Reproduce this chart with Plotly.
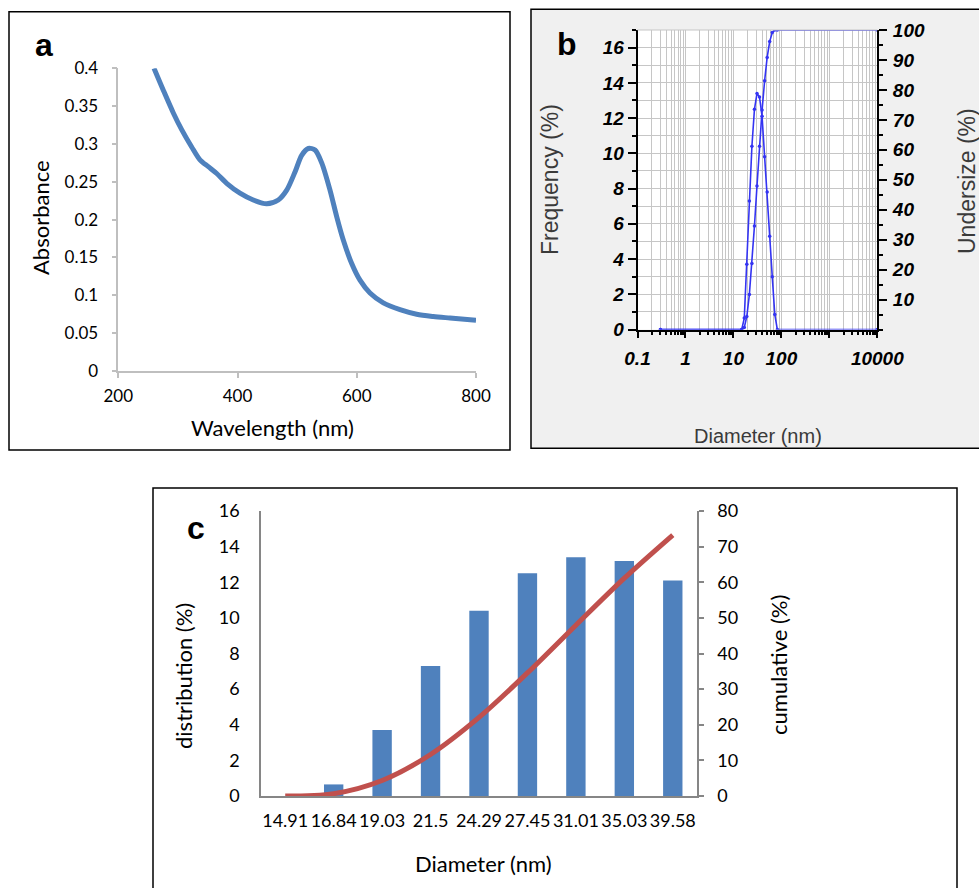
import plotly.graph_objects as go

# ---------------- data ----------------
# (a) UV-vis absorption spectrum
wavelength_nm = [259.9, 275.5, 292.3, 306.3, 323.1, 337.0, 351.0, 365.1, 381.8, 404.1,
                 426.4, 448.9, 468.4, 482.5, 496.4, 507.6, 518.7, 530.0, 541.2, 555.1,
                 566.3, 577.4, 591.5, 605.4, 622.2, 644.5, 672.5, 700.5, 728.4, 756.4, 800.0]
absorbance = [0.400, 0.371, 0.341, 0.319, 0.296, 0.279, 0.270, 0.261, 0.248, 0.235,
              0.226, 0.221, 0.226, 0.239, 0.263, 0.285, 0.294, 0.292, 0.275, 0.239,
              0.204, 0.173, 0.142, 0.120, 0.103, 0.090, 0.081, 0.075, 0.072, 0.070, 0.067]

# (b) particle size analyser output
dls_diameter_nm = [0.3, 14.91, 16.84, 19.03, 21.5, 24.29, 27.45, 31.01, 35.03, 39.58,
                   44.72, 50.53, 57.09, 64.5, 72.88, 82.34, 10000]
dls_frequency = [0, 0, 0.65, 3.7, 7.3, 10.4, 12.5, 13.4, 13.2, 12.1,
                 9.8, 7.8, 5.3, 3.0, 0.85, 0, 0]
dls_undersize = [0, 0, 0.65, 4.35, 11.65, 22.05, 34.55, 47.95, 61.15, 73.25,
                 83.05, 90.85, 96.15, 99.15, 100, 100, 100]
dls_tick_vals = [0.1, 1, 10, 100, 1000, 10000]
dls_tick_text = ["0.1", "1", "10", "100", "", "10000"]

# (c) size distribution histogram
size_bins = ["14.91", "16.84", "19.03", "21.5", "24.29", "27.45", "31.01", "35.03", "39.58"]
distribution_pct = [0, 0.65, 3.7, 7.3, 10.4, 12.5, 13.4, 13.2, 12.1]
cumulative_pct = [0, 0.65, 4.35, 11.65, 22.05, 34.55, 47.95, 61.15, 73.25]

# ---------------- layout helpers ----------------
W, H = 979, 888


def px(x):
    return x / W


def py(y):
    return 1 - y / H


BLUE = "#4F81BD"
RED = "#C0504D"
DLS_BLUE = "#3434F2"
GRID = "#C6C6C6"

excel_tick = dict(family="Lato", size=17, color="black")
excel_title = dict(family="Lato", size=22, color="black")
dls_tick = dict(family="Liberation Sans", size=19, color="black", weight="bold", style="italic")
dls_title = dict(family="Liberation Sans", size=20, color="#3a3a3a")
dls_title_v = dict(family="Liberation Sans", size=23, color="#3a3a3a")

fig = go.Figure()

# (a) spectrum
fig.add_trace(go.Scatter(
    x=wavelength_nm, y=absorbance, mode="lines",
    line=dict(color=BLUE, width=5, shape="spline", smoothing=0.8),
    xaxis="x", yaxis="y", showlegend=False))

# (b) frequency and undersize curves
fig.add_trace(go.Scatter(
    x=dls_diameter_nm, y=dls_frequency, mode="lines+markers",
    line=dict(color=DLS_BLUE, width=1.6), marker=dict(size=3.5, color=DLS_BLUE),
    xaxis="x2", yaxis="y2", showlegend=False))
fig.add_trace(go.Scatter(
    x=dls_diameter_nm, y=dls_undersize, mode="lines+markers",
    line=dict(color=DLS_BLUE, width=1.6), marker=dict(size=3.5, color=DLS_BLUE),
    xaxis="x2", yaxis="y3", showlegend=False))

# (c) histogram with cumulative curve
fig.add_trace(go.Bar(
    x=size_bins, y=distribution_pct, marker=dict(color=BLUE, line=dict(width=0)),
    xaxis="x3", yaxis="y4", showlegend=False))
fig.add_trace(go.Scatter(
    x=size_bins, y=cumulative_pct, mode="lines",
    line=dict(color=RED, width=5, shape="spline", smoothing=0.9),
    xaxis="x3", yaxis="y5", showlegend=False))

fig.update_layout(
    width=W, height=H, margin=dict(l=0, r=0, t=0, b=0, pad=0, autoexpand=False),
    paper_bgcolor="white", plot_bgcolor="white", bargap=0.6, showlegend=False,
    # panel a
    xaxis=dict(domain=[px(118.3), px(476)], anchor="y", range=[200, 800],
               tickvals=[200, 400, 600, 800], ticks="outside", ticklen=5,
               tickcolor="#BFBFBF", tickwidth=1.5, showline=True, linecolor="#BFBFBF",
               linewidth=1.5, showgrid=False, zeroline=False, tickfont=excel_tick,
               ticklabelstandoff=4, automargin=False),
    yaxis=dict(domain=[py(371), py(68.3)], anchor="x", range=[0, 0.4], dtick=0.05,
               tick0=0, ticks="outside", ticklen=5, tickcolor="#BFBFBF", tickwidth=1.5,
               showline=True, linecolor="#BFBFBF", linewidth=1.5, showgrid=False,
               zeroline=False, tickfont=excel_tick, ticklabelstandoff=10, automargin=False),
    # panel b
    xaxis2=dict(domain=[px(637.5), px(877.3)], anchor="y2", type="log", range=[-1, 4],
                tickvals=dls_tick_vals, ticktext=dls_tick_text, ticks="outside",
                ticklen=7, tickcolor="black", tickwidth=1.5, showline=True,
                linecolor="black", linewidth=1.5, showgrid=True, gridcolor=GRID,
                gridwidth=1, zeroline=False, tickfont=dls_tick, ticklabelstandoff=4,
                automargin=False,
                minor=dict(dtick="D1", showgrid=True, gridcolor=GRID, gridwidth=1,
                           ticks="outside", ticklen=4, tickcolor="black")),
    yaxis2=dict(domain=[py(329.5), py(30)], anchor="x2", range=[0, 17],
                tickvals=list(range(0, 17, 2)), ticks="outside", ticklen=8,
                tickcolor="black", tickwidth=1.5, showline=True, linecolor="black",
                linewidth=1.5, showgrid=True, gridcolor=GRID, zeroline=False,
                tickfont=dls_tick, ticklabelstandoff=0, automargin=False,
                minor=dict(dtick=1, showgrid=True, gridcolor=GRID, ticks="outside",
                           ticklen=4, tickcolor="black")),
    yaxis3=dict(overlaying="y2", side="right", anchor="x2", range=[0, 100],
                tickvals=list(range(10, 101, 10)), ticks="outside", ticklen=8,
                tickcolor="black", tickwidth=1.5, showline=True, linecolor="black",
                linewidth=1.5, showgrid=False, zeroline=False, tickfont=dls_tick,
                ticklabelstandoff=2, automargin=False,
                minor=dict(dtick=5, ticks="outside", ticklen=4, tickcolor="black")),
    # panel c
    xaxis3=dict(domain=[px(261), px(697)], anchor="y4", type="category",
                showline=True, linecolor="#868686", linewidth=1.5, ticks="",
                showgrid=False, zeroline=False,
                tickfont=dict(family="Lato", size=18, color="black"),
                ticklabelstandoff=8, automargin=False),
    yaxis4=dict(domain=[py(796), py(511)], anchor="x3", range=[0, 16], dtick=2,
                showline=True, linecolor="#868686", linewidth=1.5, ticks="",
                showgrid=False, zeroline=False,
                tickfont=dict(family="Lato", size=18, color="black"),
                ticklabelstandoff=16, automargin=False),
    yaxis5=dict(overlaying="y4", side="right", anchor="x3", range=[0, 80], dtick=10,
                showline=True, linecolor="#868686", linewidth=1.5, ticks="outside",
                ticklen=5, tickcolor="#868686", tickwidth=1.5, showgrid=False,
                zeroline=False, tickfont=dict(family="Lato", size=18, color="black"),
                ticklabelstandoff=10, automargin=False),
)

shapes = [
    # panel frames
    dict(type="rect", xref="paper", yref="paper", x0=px(9), x1=px(510),
         y0=py(450), y1=py(11.7), line=dict(color="black", width=1.5)),
    dict(type="rect", xref="paper", yref="paper", x0=px(531), x1=1.02,
         y0=py(448.3), y1=py(9.3), line=dict(color="black", width=1.5),
         fillcolor="#F0F0F0", layer="below"),
    dict(type="rect", xref="paper", yref="paper", x0=px(637.5), x1=px(877.3),
         y0=py(329.5), y1=py(30), line=dict(width=0), fillcolor="white", layer="below"),
    dict(type="line", xref="paper", yref="paper", x0=px(637.5), x1=px(877.3),
         y0=py(30), y1=py(30), line=dict(color=GRID, width=1)),
    dict(type="rect", xref="paper", yref="paper", x0=px(153), x1=px(957),
         y0=-0.02, y1=py(488), line=dict(color="black", width=1.5)),
]


def label(text, x, y, font, angle=0):
    return dict(text=text, x=px(x), y=py(y), xref="paper", yref="paper",
                showarrow=False, xanchor="center", yanchor="middle",
                textangle=angle, font=font)


panel_font = dict(family="Liberation Sans", size=32, color="black", weight="bold")

annotations = [
    label("a", 43.5, 45, panel_font),
    label("b", 566.5, 44, panel_font),
    label("c", 196, 528, panel_font),
    label("Absorbance", 40, 218, excel_title, -90),
    label("Wavelength (nm)", 272, 428, excel_title),
    label("Frequency (%)", 550, 180, dls_title_v, -90),
    label("Undersize (%)", 967, 181, dls_title_v, -90),
    label("Diameter (nm)", 758, 436, dls_title),
    label("distribution (%)", 183, 676, excel_title, -90),
    label("cumulative (%)", 778, 665, excel_title, -90),
    label("Diameter (nm)", 483, 863, excel_title),
]

fig.update_layout(shapes=shapes, annotations=annotations)
fig.write_html("out.html")
